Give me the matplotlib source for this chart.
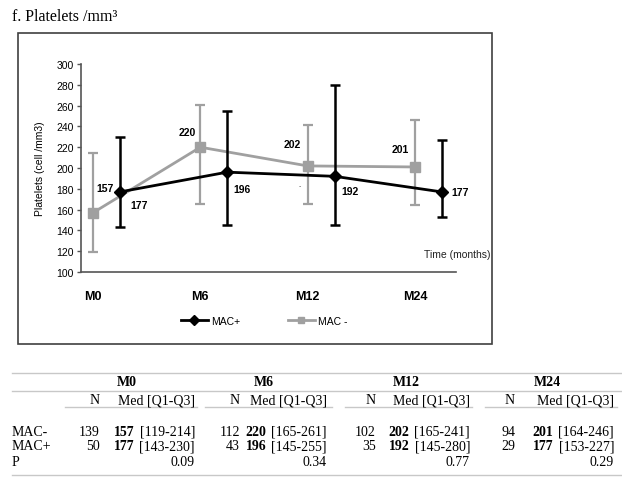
import matplotlib
matplotlib.use("Agg")
import numpy as np
from matplotlib import pyplot as plt
from matplotlib.lines import Line2D
from matplotlib.patches import Rectangle
from matplotlib.text import Annotation

W, H = 622, 481

months = ["M0", "M6", "M12", "M24"]

mac_minus_n = [139, 112, 102, 94]
mac_minus_med = [157, 220, 202, 201]
mac_minus_q1 = [119, 165, 165, 164]
mac_minus_q3 = [214, 261, 241, 246]

mac_plus_n = [50, 43, 35, 29]
mac_plus_med = [177, 196, 192, 177]
mac_plus_q1 = [143, 145, 145, 153]
mac_plus_q3 = [230, 255, 280, 227]

p_values = ["0.09", "0.34", "0.77", "0.29"]

SANS = ["Liberation Sans", "DejaVu Sans"]
SERIF = ["Liberation Serif", "DejaVu Serif"]
GREY = "#a0a0a0"


def fx(px):
    return px / W


def fy(py):
    return 1 - py / H


fig = plt.figure(figsize=(W / 100, H / 100), dpi=100)

# title above the chart box
fig.text(fx(12), fy(21), "f. Platelets /mm³", family=SERIF, fontsize=11.5,
         va="baseline", ha="left")

# chart frame
fig.patches.append(Rectangle((fx(18), fy(345)), fx(492) - fx(18), fy(34) - fy(345),
                             transform=fig.transFigure, fill=False,
                             edgecolor="#404040", linewidth=1.2))

ax = fig.add_axes([fx(81), fy(273), fx(456) - fx(81), fy(65) - fy(273)])

x = np.arange(len(months))
off = 0.25

minus_med = np.array(mac_minus_med)
plus_med = np.array(mac_plus_med)
minus_err = [minus_med - np.array(mac_minus_q1), np.array(mac_minus_q3) - minus_med]
plus_err = [plus_med - np.array(mac_plus_q1), np.array(mac_plus_q3) - plus_med]

ax.errorbar(x, minus_med, yerr=minus_err, color=GREY, ecolor=GREY, lw=2,
            elinewidth=1.6, capsize=3.5, capthick=1.6, marker="s", ms=7,
            label="MAC -", zorder=2)
ax.errorbar(x + off, plus_med, yerr=plus_err, color="black", ecolor="black", lw=2,
            elinewidth=1.8, capsize=3.5, capthick=1.8, marker="D", ms=6,
            label="MAC+", zorder=3)

# median labels, offsets in pixels from each marker
minus_offsets = [(12, 25), (-13, 15), (-15, 22), (-15, 18)]
plus_offsets = [(19, -13), (15, -17), (15, -15), (18, 0)]
for i in range(len(months)):
    ax.annotate(str(mac_minus_med[i]), (x[i], mac_minus_med[i]),
                xytext=minus_offsets[i], textcoords="offset pixels",
                ha="center", va="center", fontsize=7.5, fontweight="bold",
                family=SANS)
    ax.annotate(str(mac_plus_med[i]), (x[i] + off, mac_plus_med[i]),
                xytext=plus_offsets[i], textcoords="offset pixels",
                ha="center", va="center", fontsize=7.5, fontweight="bold",
                family=SANS)
ax.annotate("-", (x[2], mac_minus_med[2]), xytext=(-8, -20),
            textcoords="offset pixels", ha="center", va="center", fontsize=5,
            color="#555555", family=SANS)

ax.set_xlim(-0.112, 3.382)
ax.set_ylim(100, 300)
ax.set_yticks(range(100, 301, 20))
ax.set_xticks(x)
ax.set_xticklabels(months, fontweight="bold", fontsize=9, family=SANS)
ax.tick_params(axis="x", length=0, pad=13)
ax.tick_params(axis="y", length=3, width=1, color="#555555", labelsize=7.5, pad=2)
for lab in ax.get_yticklabels():
    lab.set_family(SANS)

for s in ["top", "right"]:
    ax.spines[s].set_visible(False)
for s in ["left", "bottom"]:
    ax.spines[s].set_color("#555555")
    ax.spines[s].set_linewidth(1.2)
ax.patch.set_alpha(0)

ax.set_ylabel("Platelets (cell /mm3)", family=SANS, fontsize=7.5, labelpad=8)
fig.text(fx(457), fy(255), "Time (months)", family=SANS, fontsize=7.5,
         ha="center", va="center", color="#222222")

handles = [
    Line2D([], [], color="black", lw=2, marker="D", ms=5),
    Line2D([], [], color=GREY, lw=2, marker="s", ms=5),
]
fig.legend(handles, ["MAC+", "MAC -"], loc="center", bbox_to_anchor=(fx(264), fy(322)),
           ncol=2, frameon=False, prop={"family": SANS, "size": 7.5},
           handlelength=2.6, handletextpad=0.3, columnspacing=4.6)

# summary table below the chart
rule_kw = dict(transform=fig.transFigure, color="#c8c8c8", lw=1)
for py in (374, 392, 476):
    fig.add_artist(Line2D([fx(12), fx(622)], [fy(py), fy(py)], **rule_kw))
for x0, x1 in [(65, 197), (205, 332), (345, 472), (485, 617)]:
    fig.add_artist(Line2D([fx(x0), fx(x1)], [fy(408), fy(408)], **rule_kw))

group_cx = [127, 264, 406, 547]
n_right = [100, 240, 376, 515]
med_right = [195, 327, 470, 614]
row_y = {"hdr": 383, "sub": 401, "minus": 432, "plus": 447, "p": 462}
tk = dict(family=SERIF, fontsize=10, va="center")

for lab, key in [("MAC-", "minus"), ("MAC+", "plus"), ("P", "p")]:
    fig.text(fx(12), fy(row_y[key]), lab, ha="left", **tk)

for i, m in enumerate(months):
    fig.text(fx(group_cx[i]), fy(row_y["hdr"]), m, ha="center", fontweight="bold", **tk)
    fig.text(fx(n_right[i]), fy(row_y["sub"]), "N", ha="right", **tk)
    fig.text(fx(med_right[i]), fy(row_y["sub"]), "Med [Q1-Q3]", ha="right", **tk)
    for key, ns, meds, q1s, q3s in [
        ("minus", mac_minus_n, mac_minus_med, mac_minus_q1, mac_minus_q3),
        ("plus", mac_plus_n, mac_plus_med, mac_plus_q1, mac_plus_q3),
    ]:
        yy = fy(row_y[key])
        fig.text(fx(n_right[i]), yy, str(ns[i]), ha="right", **tk)
        rng = fig.text(fx(med_right[i]), yy, "[%d-%d]" % (q1s[i], q3s[i]),
                       ha="right", **tk)
        # bold median sits just left of the range text
        fig.add_artist(Annotation(str(meds[i]), xy=(0, 0.5), xycoords=rng,
                                  xytext=(-5, 0), textcoords="offset pixels",
                                  ha="right", fontweight="bold", **tk))
    fig.text(fx(med_right[i]), fy(row_y["p"]), p_values[i], ha="right", **tk)

fig.savefig("out.png", dpi=100)
